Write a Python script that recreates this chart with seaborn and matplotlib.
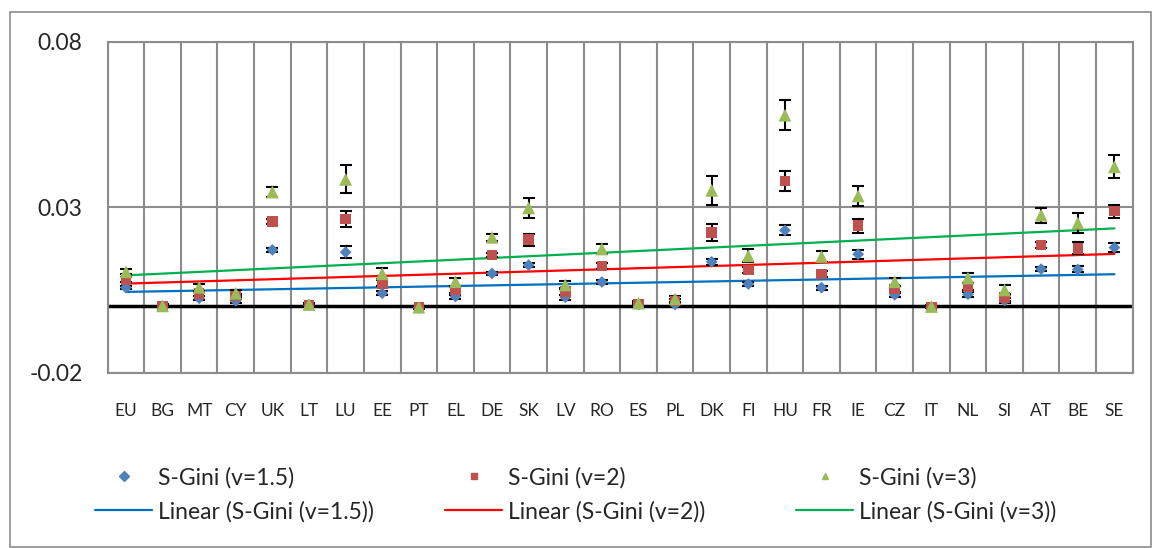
import numpy as np
import pandas as pd
import matplotlib
matplotlib.use("Agg")
import matplotlib.pyplot as plt
from matplotlib.patches import Rectangle
from matplotlib.lines import Line2D
import seaborn as sns

# ===============================
# Data
# ===============================
countries = ["EU", "BG", "MT", "CY", "UK", "LT", "LU", "EE", "PT", "EL", "DE", "SK", "LV", "RO",
             "ES", "PL", "DK", "FI", "HU", "FR", "IE", "CZ", "IT", "NL", "SI", "AT", "BE", "SE"]

gini_15 = [0.0057, 0.0000, 0.0025, 0.0017, 0.0171, 0.0004, 0.0164, 0.0040, -0.0004, 0.0030,
           0.0100, 0.0125, 0.0028, 0.0074, 0.0006, 0.0006, 0.0135, 0.0068, 0.0230, 0.0057,
           0.0158, 0.0035, -0.0002, 0.0037, 0.0018, 0.0113, 0.0112, 0.0178]
gini_2 = [0.0081, 0.0001, 0.0040, 0.0032, 0.0257, 0.0005, 0.0264, 0.0070, -0.0003, 0.0050,
          0.0156, 0.0202, 0.0045, 0.0122, 0.0008, 0.0017, 0.0224, 0.0110, 0.0379, 0.0098,
          0.0244, 0.0053, -0.0001, 0.0060, 0.0027, 0.0186, 0.0176, 0.0288]
gini_3 = [0.0105, 0.0002, 0.0058, 0.0040, 0.0346, 0.0006, 0.0384, 0.0099, -0.0002, 0.0075,
          0.0209, 0.0298, 0.0065, 0.0174, 0.0010, 0.0023, 0.0351, 0.0153, 0.0578, 0.0151,
          0.0334, 0.0075, 0.0000, 0.0086, 0.0050, 0.0276, 0.0252, 0.0422]

err_15 = [0.0005, 0.0003, 0.0006, 0.0005, 0.0006, 0.0004, 0.0018, 0.0006, 0.0003, 0.0006,
          0.0005, 0.0007, 0.0007, 0.0006, 0.0003, 0.0004, 0.0009, 0.0006, 0.0015, 0.0006,
          0.0014, 0.0006, 0.0003, 0.0007, 0.0008, 0.0006, 0.0009, 0.0013]
err_2 = [0.0007, 0.0004, 0.0008, 0.0007, 0.0008, 0.0005, 0.0025, 0.0009, 0.0004, 0.0008,
         0.0007, 0.0018, 0.0010, 0.0008, 0.0005, 0.0006, 0.0025, 0.0008, 0.0030, 0.0008,
         0.0021, 0.0009, 0.0004, 0.0010, 0.0011, 0.0008, 0.0018, 0.0020]
err_3 = [0.0008, 0.0005, 0.0010, 0.0009, 0.0015, 0.0006, 0.0042, 0.0017, 0.0005, 0.0012,
         0.0010, 0.0030, 0.0012, 0.0015, 0.0006, 0.0008, 0.0043, 0.0020, 0.0046, 0.0018,
         0.0030, 0.0012, 0.0005, 0.0014, 0.0015, 0.0023, 0.0029, 0.0035]

series_names = ["S-Gini (v=1.5)", "S-Gini (v=2)", "S-Gini (v=3)"]
series_vals = [gini_15, gini_2, gini_3]
series_errs = [err_15, err_2, err_3]
y_ticks = [-0.02, 0.03, 0.08]

# ===============================
# Styles
# ===============================
marker_colors = ["#4F81BD", "#C0504D", "#9BBB59"]
trend_colors = ["#0070C0", "#FF0000", "#00B050"]
markers = ["D", "s", "^"]
marker_sizes = [36, 58, 85]
grid_color = "#8C8C8C"

sns.set_style("white")
plt.rcParams["font.family"] = ["Lato", "DejaVu Sans"]

pos = np.arange(len(countries))
df = pd.DataFrame({
    "pos": np.tile(pos, 3),
    "value": np.concatenate(series_vals),
    "series": np.repeat(series_names, len(countries)),
})

fig = plt.figure(figsize=(11.55, 5.48), dpi=100)
ax = fig.add_axes([0.0932, 0.3199, 0.8875, 0.604])

# outer chart border
fig.patches.append(Rectangle((10 / 1155, 1 / 548), 1141 / 1155, 535 / 548,
                             transform=fig.transFigure, fill=False,
                             edgecolor="#8C8C8C", lw=1.2))

# grid lines (category boundaries + value ticks)
ax.set_xlim(-0.5, len(countries) - 0.5)
ax.set_ylim(-0.02, 0.08)
ax.set_xticks(pos)
ax.set_xticklabels(countries)
ax.set_xticks(np.arange(-0.5, len(countries)), minor=True)
ax.set_yticks(y_ticks)
ax.set_yticklabels([f"{t:g}" for t in y_ticks])
ax.grid(which="minor", axis="x", color=grid_color, lw=1.5, zorder=0)
ax.grid(which="major", axis="y", color=grid_color, lw=1.5, zorder=0)
ax.set_axisbelow(True)
for s in ax.spines.values():
    s.set_color(grid_color)
    s.set_linewidth(1.5)

ax.tick_params(axis="x", which="both", length=0, labelsize=12.5, pad=22)
ax.tick_params(axis="y", length=6, width=1.5, color=grid_color, labelsize=16.5, pad=12)

# zero line
ax.axhline(0, color="black", lw=2.5, zorder=1)

# trend lines
for vals, col in zip(series_vals, trend_colors):
    sns.regplot(x=pos, y=np.array(vals), ax=ax, scatter=False, ci=None,
                line_kws={"color": col, "lw": 1.6, "zorder": 2})

# error bars
for vals, errs in zip(series_vals, series_errs):
    ax.errorbar(pos, vals, yerr=errs, fmt="none", ecolor="black",
                elinewidth=1.5, capsize=4.0, capthick=1.5, zorder=3)

# points
for name, col, mk, sz in zip(series_names, marker_colors, markers, marker_sizes):
    sns.scatterplot(data=df[df["series"] == name], x="pos", y="value", ax=ax,
                    color=col, marker=mk, s=sz, edgecolor="none", zorder=4,
                    legend=False)

ax.set_xlabel("")
ax.set_ylabel("")
ax.set_xlim(-0.5, len(countries) - 0.5)

# legend (Excel-style, below the plot): three equal-width columns
col_left = [95, 445, 796]
for name, col, mk, tc, x0 in zip(series_names, marker_colors, markers, trend_colors, col_left):
    hs = [Line2D([], [], ls="none", marker=mk, color=col, markersize=5, label=name),
          Line2D([], [], color=tc, lw=1.6, label=f"Linear ({name})")]
    leg = fig.legend(handles=hs, loc="center left",
                     bbox_to_anchor=(x0 / 1155, 1 - 494.5 / 548), frameon=False,
                     fontsize=16.5, handlelength=2.5, handletextpad=0.25,
                     borderpad=0, borderaxespad=0, labelspacing=0.53)

plt.savefig("out.png", dpi=100)
plt.close()
